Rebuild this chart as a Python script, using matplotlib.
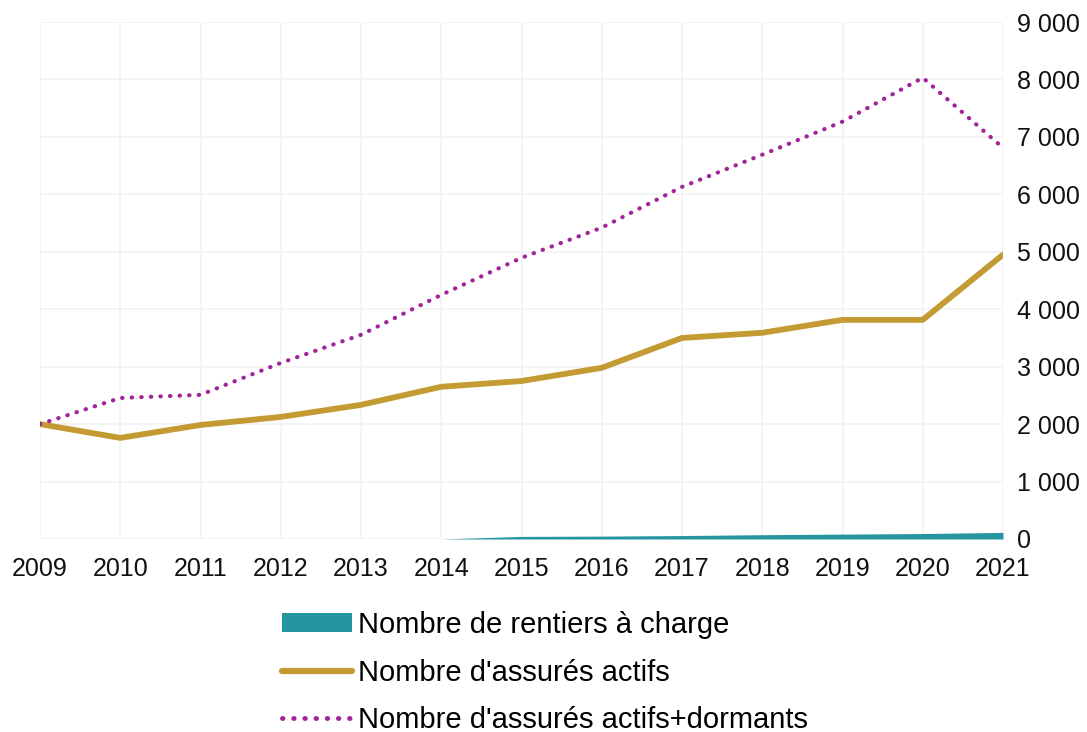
import matplotlib.pyplot as plt
from matplotlib.ticker import FuncFormatter
from matplotlib.patches import Patch
from matplotlib.lines import Line2D

plt.rcParams['font.family'] = ['Liberation Sans', 'DejaVu Sans']

# === données ===
years = [2009, 2010, 2011, 2012, 2013, 2014, 2015, 2016, 2017, 2018, 2019, 2020, 2021]
rentiers = [0, 0, 0, 0, 0, 0, 45, 50, 60, 75, 85, 95, 115]
actifs = [2000, 1760, 1985, 2125, 2335, 2650, 2750, 2980, 3500, 3590, 3815, 3815, 4950]
actifs_dormants = [2000, 2455, 2510, 3065, 3555, 4250, 4895, 5420, 6130, 6690, 7265, 8030, 6810]
labels = ["Nombre de rentiers à charge", "Nombre d'assurés actifs",
          "Nombre d'assurés actifs+dormants"]

c_teal = "#2596a0"
c_gold = "#c49a32"
c_purple = "#a3239b"

fig = plt.figure(figsize=(10.87, 7.32), dpi=100)
ax = fig.add_axes([40 / 1087, 1 - 539 / 732, (1003 - 40) / 1087, (539 - 22) / 732])

ax.fill_between(years, 0, rentiers, color=c_teal, linewidth=0, zorder=2)
ax.plot(years, actifs, color=c_gold, linewidth=4.2, solid_capstyle="round",
        solid_joinstyle="round", zorder=3)
ax.plot(years, actifs_dormants, color=c_purple, linewidth=3.0, linestyle=(0, (0.1, 2.2)),
        dash_capstyle="round", zorder=3)

ax.set_xlim(2009, 2021)
ax.set_ylim(0, 9000)
ax.set_xticks(years)
ax.set_yticks(range(0, 9001, 1000))
ax.yaxis.set_major_formatter(FuncFormatter(lambda v, p: f"{int(v):,}".replace(",", " ")))
ax.yaxis.tick_right()

ax.tick_params(axis="both", length=0, labelsize=18, colors="#111111")
ax.tick_params(axis="x", pad=13)
ax.tick_params(axis="y", pad=10)

for s in ax.spines.values():
    s.set_visible(False)
ax.grid(True, color="#f3f3f3", linewidth=1.3)
ax.set_axisbelow(True)

handles = [Patch(facecolor=c_teal, edgecolor="none"),
           Line2D([], [], color=c_gold, linewidth=4.5, solid_capstyle="round"),
           Line2D([], [], color=c_purple, linewidth=3.5, linestyle=(0, (0.1, 2.2)),
                  dash_capstyle="round")]
fig.legend(handles, labels, loc="upper left", bbox_to_anchor=(282 / 1087, 1 - 611 / 732),
           frameon=False, fontsize=21, handlelength=2.4, handleheight=0.6,
           handletextpad=0.2, labelspacing=0.67, borderpad=0, borderaxespad=0)

plt.savefig("out.png", dpi=100)
plt.close()
